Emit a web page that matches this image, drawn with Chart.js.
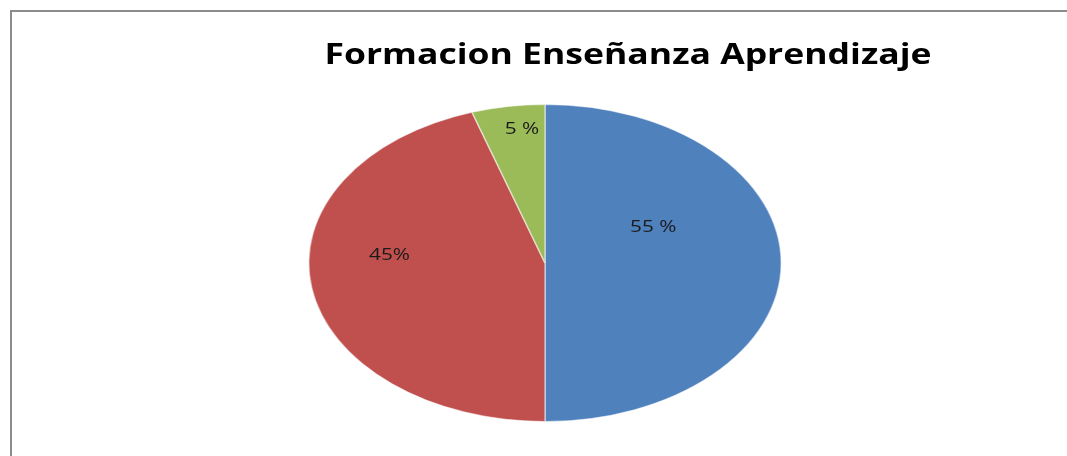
<!DOCTYPE html>
<html>
<head>
<meta charset="utf-8">
<script src="https://cdn.jsdelivr.net/npm/chart.js@4"></script>
<style>
  html, body { margin: 0; padding: 0; background: #fff; }
  #wrap { width: 1067px; height: 456px; }
</style>
</head>
<body>
<div id="wrap"><canvas id="pieChart" width="1067" height="456"></canvas></div>
<script>
// data
const titulo = 'Formacion Enseñanza Aprendizaje';
const etiquetas = ['55 %', '45%', '5 %'];
const valores = [50, 45, 5];
const colores = ['#4F81BD', '#C0504D', '#9BBB59'];

// the original picture is stretched sideways, so the pie is an ellipse
const SX = 1.49;
// where each value label sits: turn from the slice middle (deg) and share of the radius
const labelPos = [{ turn: -26, r: 0.51 }, { turn: 13, r: 0.66 }, { turn: 2.4, r: 0.85 }];

const stretchPlugin = {
  id: 'stretch',
  beforeDraw(chart) {
    const c = chart.ctx;
    c.save();
    c.strokeStyle = '#8c8c8c';
    c.lineWidth = 2;
    c.beginPath();
    c.moveTo(11, 456);
    c.lineTo(11, 11);
    c.lineTo(1067, 11);
    c.stroke();
    c.restore();
  },
  beforeDatasetsDraw(chart) {
    const arc = chart.getDatasetMeta(0).data[0];
    const c = chart.ctx;
    c.save();
    c.translate(arc.x, 0);
    c.scale(SX, 1);
    c.translate(-arc.x, 0);
  },
  afterDatasetsDraw(chart) {
    const c = chart.ctx;
    c.restore();
    const meta = chart.getDatasetMeta(0);

    // value labels
    c.save();
    c.font = '16px "Open Sans"';
    c.fillStyle = '#1a1a1a';
    c.textAlign = 'center';
    c.textBaseline = 'middle';
    meta.data.forEach((a, i) => {
      const p = labelPos[i];
      const ang = (a.startAngle + a.endAngle) / 2 + p.turn * Math.PI / 180;
      const x = a.x + Math.cos(ang) * a.outerRadius * p.r * SX;
      const y = a.y + Math.sin(ang) * a.outerRadius * p.r;
      c.save();
      c.translate(x, y);
      c.scale(1.3, 1);
      c.fillText(etiquetas[i], 0, 0);
      c.restore();
    });
    c.restore();

    // title
    c.save();
    c.font = 'bold 28px "Open Sans"';
    c.fillStyle = '#000';
    c.textAlign = 'center';
    c.textBaseline = 'middle';
    c.translate(628, 56);
    const w = c.measureText(titulo).width;
    c.scale(607 / w, 1);
    c.fillText(titulo, 0, 0);
    c.restore();
  }
};

function draw() {
  const ctx = document.getElementById('pieChart').getContext('2d');
  const pieChart = new Chart(ctx, {
    type: 'pie',
    data: {
      labels: etiquetas,
      datasets: [{
        data: valores,
        backgroundColor: colores,
        borderColor: 'rgba(255,255,255,0.5)',
        borderWidth: 1,
        clip: false
      }]
    },
    options: {
      responsive: false,
      animation: false,
      layout: { padding: { left: 300, right: 277, top: 104, bottom: 34 } },
      plugins: {
        legend: { display: false },
        tooltip: { enabled: false },
        title: { display: false }
      }
    },
    plugins: [stretchPlugin]
  });
}

Promise.all([
  document.fonts.load('bold 28px "Open Sans"'),
  document.fonts.load('16px "Open Sans"')
]).then(draw, draw);
</script>
</body>
</html>
